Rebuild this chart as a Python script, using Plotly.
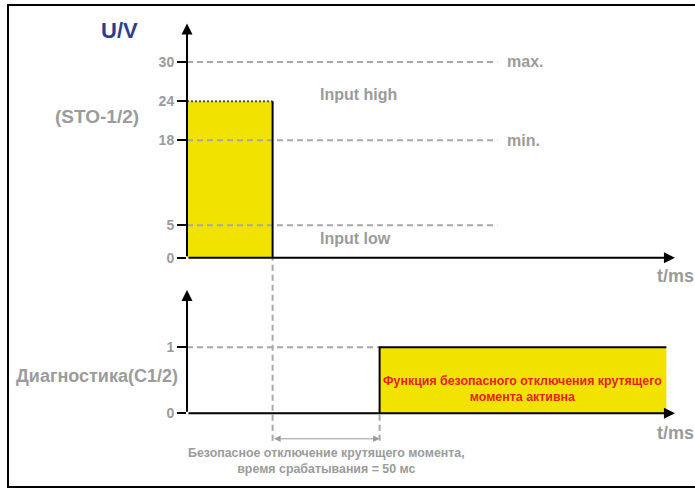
import plotly.graph_objects as go

# ---------------- data ----------------
u_ticks = [0, 5, 18, 24, 30]            # voltage tick values (V)
u_tick_labels = ["0", "5", "18", "24", "30"]
u_high = 24                              # STO input level before switch-off
u_max = 30
u_min = 18
u_low = 5
t_off = 40                               # ms: STO input switched off
response_ms = 50                         # safe torque off response time
t_diag = t_off + response_ms             # ms: diagnostic output goes high
t_ref_end = 145                          # ms: end of dashed limit lines
t_diag_end = 224                         # ms: end of diagnostic bar
t_axis_end = 228                         # ms: end of time axes
diag_ticks = [0, 1]
diag_level = 1
u_axis_top = 35.9
diag_axis_top = 1.87

# ---------------- layout helpers ----------------
W, H = 695, 496
X0 = 187
PX_PER_MS = 2.14
def px(x):
    return x / W
def py(y):
    return 1 - y / H

GRAY = "#9b9b9b"
DASH_GRAY = "#a8a8a8"
YELLOW = "#F1E200"
FONT = "Liberation Sans, Arial, sans-serif"

fig = go.Figure()

# upper yellow STO-high block
fig.add_trace(go.Scatter(
    x=[0, 0, t_off, t_off, 0], y=[0, u_high, u_high, 0, 0],
    mode="lines", fill="toself", fillcolor=YELLOW, line=dict(width=0),
    xaxis="x", yaxis="y", hoverinfo="skip"))
# dashed limit lines
for lvl in [u_max, u_min, u_low]:
    fig.add_trace(go.Scatter(x=[0, t_ref_end], y=[lvl, lvl], mode="lines",
                             line=dict(color=DASH_GRAY, width=2, dash="6px,4px"),
                             xaxis="x", yaxis="y", hoverinfo="skip"))
# dotted top of block
fig.add_trace(go.Scatter(x=[0, t_off], y=[u_high, u_high], mode="lines",
                         line=dict(color="#555555", width=2, dash="2px,2px"),
                         xaxis="x", yaxis="y", hoverinfo="skip"))
# right edge of block
fig.add_trace(go.Scatter(x=[t_off, t_off], y=[0, u_high], mode="lines",
                         line=dict(color="black", width=2),
                         xaxis="x", yaxis="y", hoverinfo="skip"))

# lower diagnostic block
fig.add_trace(go.Scatter(
    x=[t_diag, t_diag, t_diag_end, t_diag_end, t_diag],
    y=[0, diag_level, diag_level, 0, 0],
    mode="lines", fill="toself", fillcolor=YELLOW, line=dict(width=0),
    xaxis="x", yaxis="y2", hoverinfo="skip"))
fig.add_trace(go.Scatter(x=[0, t_diag], y=[diag_level, diag_level], mode="lines",
                         line=dict(color=DASH_GRAY, width=2, dash="6px,4px"),
                         xaxis="x", yaxis="y2", hoverinfo="skip"))
fig.add_trace(go.Scatter(x=[t_diag, t_diag, t_diag_end], y=[0, diag_level, diag_level],
                         mode="lines", line=dict(color="black", width=2),
                         xaxis="x", yaxis="y2", hoverinfo="skip"))

x_range = [0, (W - X0) / PX_PER_MS]
u_dom = [py(262), py(12)]
u_range = [0, (262 - 12) / ((262 - 63) / 30)]
d_dom = [py(420), py(285)]
d_range = [0, (420 - 285) / 67]

tickfont = dict(family=FONT, size=14, color=GRAY, weight="bold")
fig.update_layout(
    width=W, height=H, margin=dict(l=0, r=0, t=0, b=0),
    paper_bgcolor="white", plot_bgcolor="rgba(0,0,0,0)",
    showlegend=False,
    xaxis=dict(domain=[px(X0), 1], range=x_range, showgrid=False, zeroline=False,
               showticklabels=False, ticks="", showline=False, anchor="y"),
    yaxis=dict(domain=u_dom, range=u_range, showgrid=False, zeroline=False,
               tickvals=u_ticks, ticktext=u_tick_labels, ticks="outside",
               ticklen=9, tickwidth=2, tickcolor="black", tickfont=tickfont,
               showline=False, anchor="x"),
    yaxis2=dict(domain=d_dom, range=d_range, showgrid=False, zeroline=False,
                tickvals=diag_ticks, ticktext=[str(v) for v in diag_ticks],
                ticks="outside", ticklen=9, tickwidth=2, tickcolor="black",
                tickfont=tickfont, showline=False, anchor="x"),
)

ann = []
# axis arrows
def arrow(x, y, ax, ay, yref):
    return dict(x=x, y=y, ax=ax, ay=ay, xref="x", yref=yref, axref="x", ayref=yref,
                text="", showarrow=True, arrowhead=2, arrowsize=1.1, arrowwidth=2,
                arrowcolor="black", standoff=0, startstandoff=0)
ann.append(arrow(t_axis_end, 0, 0, 0, "y"))
ann.append(arrow(0, u_axis_top, 0, 0, "y"))
ann.append(arrow(t_axis_end, 0, 0, 0, "y2"))
ann.append(arrow(0, diag_axis_top, 0, 0, "y2"))
# response time double arrow
ann.append(dict(x=t_diag, y=py(446), ax=t_off, ay=0, xref="x", yref="paper",
                axref="x", ayref="pixel", text="", showarrow=True,
                arrowhead=2, arrowside="end+start", arrowsize=1.3, arrowwidth=1,
                arrowcolor="#9a9a9a", standoff=0, startstandoff=0))

def txt(text, x, y, size, color=GRAY, xanchor="center", xref="paper", yref="paper"):
    return dict(text=text, x=x, y=y, xref=xref, yref=yref, showarrow=False,
                xanchor=xanchor, yanchor="middle",
                font=dict(family=FONT, size=size, color=color, weight="bold"))

ann.append(txt("U/V", px(119), py(31), 22, color="#2E3D8F"))
ann.append(txt("(STO-1/2)", px(97), py(118), 19))
ann.append(txt("Диагностика(C1/2)", px(97), py(382), 18))
ann.append(txt("max.", t_ref_end + 3.5, u_max, 16, xanchor="left", xref="x", yref="y"))
ann.append(txt("min.", t_ref_end + 3.5, u_min, 16, xanchor="left", xref="x", yref="y"))
ann.append(txt("Input high", 61, 25.0, 16, xanchor="left", xref="x", yref="y"))
ann.append(txt("Input low", 61, 3.0, 16, xanchor="left", xref="x", yref="y"))
ann.append(txt("t/ms", px(675), py(281), 18))
ann.append(txt("t/ms", px(675), py(440), 18))
ann.append(txt("Функция безопасного отключения крутящего<br>момента активна",
               (t_diag + t_diag_end) / 2, 0.37, 12.4, color="#E8202A", xref="x", yref="y2"))
ann.append(txt("Безопасное отключение крутящего момента,<br>время срабатывания = 50 мс",
               (t_off + t_diag) / 2, py(469), 12.4, xref="x"))
fig.update_layout(annotations=ann)

# vertical dashed guides and frame
fig.add_shape(type="line", xref="x", yref="paper", x0=t_off, x1=t_off,
              y0=py(448), y1=py(262), line=dict(color=DASH_GRAY, width=2, dash="6px,4px"))
fig.add_shape(type="line", xref="x", yref="paper", x0=t_diag, x1=t_diag,
              y0=py(448), y1=py(420), line=dict(color=DASH_GRAY, width=2, dash="6px,4px"))
fig.add_shape(type="rect", xref="paper", yref="paper", x0=px(8), x1=1.02,
              y0=py(495), y1=py(5), line=dict(color="black", width=2))

fig.write_html(
    "out.html",
    config={"displayModeBar": False},
    post_script=("document.body.style.margin='0';"
                 "var gd=document.getElementById('{plot_id}');"
                 "gd.style.position='fixed';gd.style.top='0';gd.style.left='0';"),
)
